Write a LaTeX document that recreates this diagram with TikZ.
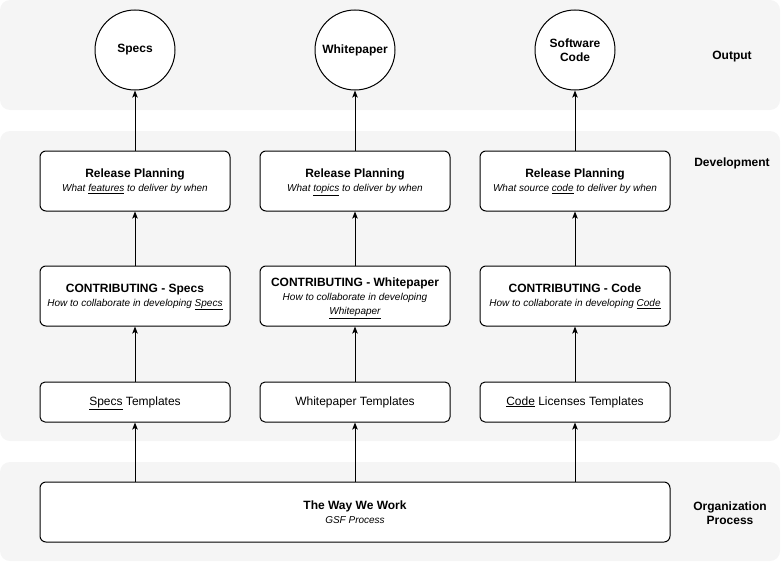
\documentclass[tikz,border=0pt]{standalone}
\usepackage{fontspec}
\setmainfont{Liberation Sans}
\usepackage{xcolor}
\usetikzlibrary{arrows.meta}
\definecolor{bandgray}{HTML}{F5F5F5}
\newcommand{\subline}[1]{{\fontsize{10}{14}\selectfont\itshape #1}}
\newcommand{\ul}[1]{\smash{\underline{#1}}}

\begin{document}
\begin{tikzpicture}[x=1pt,y=-1pt]
  \tikzset{band/.style = {fill=bandgray,draw=none,rounded corners=10pt}}
  \tikzset{outnode/.style = {shape=circle,draw,line width=1pt,minimum size=80pt,inner sep=1pt,fill=white,align=center,font=\fontsize{12}{14}\selectfont\bfseries}}
  \tikzset{box/.style = {shape=rectangle,draw,line width=1pt,fill=white,rounded corners=6pt,minimum width=190pt,minimum height=60pt,inner sep=2pt,align=center,font=\fontsize{12}{14}\selectfont}}
  \tikzset{tplbox/.style = {box,minimum height=40pt,rounded corners=5pt}}
  \tikzset{lane/.style = {align=center,font=\fontsize{12}{14}\selectfont\bfseries}}
  \tikzset{%
  tipA/.tip={Stealth[length=7pt,width=5.5pt,inset=1.5pt]},
}

	\useasboundingbox (0,0) rectangle (781,562);
	\fill[band] (0,0) rectangle (780,110);
	\fill[band] (0,131) rectangle (780,441);
	\fill[band] (0,462) rectangle (780,561);

	\node[outnode] (specs) at (135,50) {Specs};
	\node[outnode] (wpaper) at (355,50) {Whitepaper};
	\node[outnode] (code) at (575,50) {Software\\Code};

	\node[box] (relspecs) at (135,181) {\textbf{Release Planning}\\\subline{What \ul{features} to deliver by when}};
	\node[box] (relwp) at (355,181) {\textbf{Release Planning}\\\subline{What \ul{topics} to deliver by when}};
	\node[box] (relcode) at (575,181) {\textbf{Release Planning}\\\subline{What source \ul{code} to deliver by when}};

	\node[box] (contspecs) at (135,296) {\textbf{CONTRIBUTING - Specs}\\\subline{How to collaborate in developing \ul{Specs}}};
	\node[box] (contwp) at (355,296) {\textbf{CONTRIBUTING - Whitepaper}\\\subline{How to collaborate in developing}\\\subline{\ul{Whitepaper}}};
	\node[box] (contcode) at (575,296) {\textbf{CONTRIBUTING - Code}\\\subline{How to collaborate in developing \ul{Code}}};

	\node[tplbox] (tplspecs) at (135,402) {\ul{Specs} Templates};
	\node[tplbox] (tplwp) at (355,402) {Whitepaper Templates};
	\node[tplbox] (tplcode) at (575,402) {\ul{Code} Licenses Templates};

	\node[box,minimum width=630pt] (way) at (355,512) {\textbf{The Way We Work}\\\subline{GSF Process}};

	\node[lane] (lout) at (732,57) {Output};
	\node[lane] (ldev) at (732,163) {Development};
	\node[lane] (lorg) at (730,513) {Organization\\Process};

    \foreach \from/\to in {relspecs/specs, relwp/wpaper, relcode/code, contspecs/relspecs, contwp/relwp, contcode/relcode, tplspecs/contspecs, tplwp/contwp, tplcode/contcode}
    \path[-tipA,line width=1pt](\from) edge (\to);

    \foreach \to in {tplspecs, tplwp, tplcode}
    \path[-tipA,line width=1pt](way.north -| \to) edge (\to);

\end{tikzpicture}
\end{document}
